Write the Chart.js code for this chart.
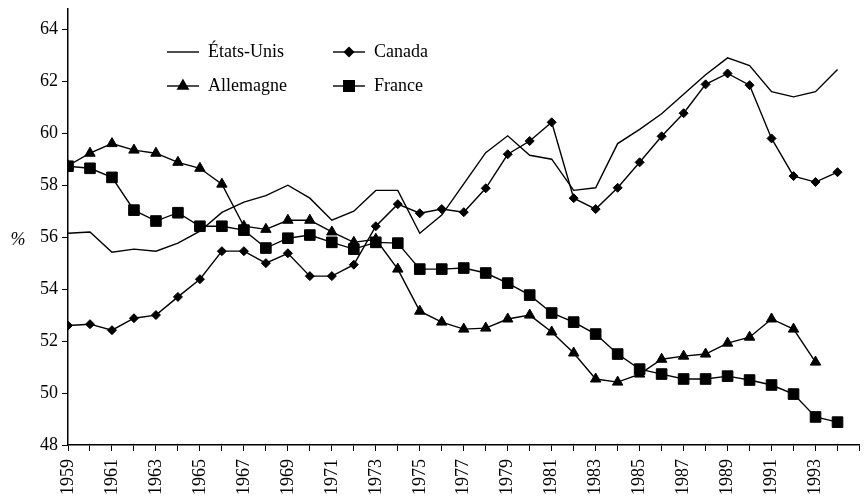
<!DOCTYPE html>
<html><head><meta charset="utf-8">
<script src="https://cdn.jsdelivr.net/npm/chart.js@4/dist/chart.umd.min.js"></script>
<style>html,body{margin:0;padding:0;background:#fff}#wrap{width:868px;height:499px}</style>
</head><body><div id="wrap"><canvas id="c" width="868" height="499"></canvas></div>
<script>
const years = [1959,1960,1961,1962,1963,1964,1965,1966,1967,1968,1969,1970,1971,1972,1973,1974,1975,1976,1977,1978,1979,1980,1981,1982,1983,1984,1985,1986,1987,1988,1989,1990,1991,1992,1993,1994];
const etatsUnis = [56.15,56.2,55.42,55.54,55.46,55.77,56.23,56.95,57.35,57.6,58.0,57.5,56.65,57.0,57.8,57.8,56.15,56.85,58.05,59.25,59.9,59.15,59.0,57.8,57.9,59.6,60.15,60.75,61.5,62.25,62.9,62.6,61.6,61.4,61.6,62.45];
const canada = [52.6,52.65,52.42,52.88,53.0,53.7,54.38,55.46,55.46,55.0,55.38,54.5,54.5,54.94,56.42,57.27,56.92,57.08,56.96,57.88,59.19,59.7,60.42,57.5,57.08,57.9,58.88,59.88,60.77,61.88,62.3,61.85,59.8,58.35,58.12,58.5];
const allemagne = [58.75,59.23,59.6,59.35,59.23,58.88,58.65,58.04,56.42,56.3,56.65,56.65,56.2,55.8,55.92,54.77,53.15,52.73,52.46,52.5,52.85,53.0,52.35,51.54,50.54,50.42,50.73,51.3,51.42,51.5,51.92,52.15,52.85,52.46,51.19];
const france = [58.73,58.65,58.3,57.04,56.62,56.94,56.42,56.42,56.27,55.58,55.96,56.08,55.8,55.54,55.8,55.77,54.77,54.77,54.81,54.62,54.23,53.77,53.08,52.73,52.27,51.5,50.92,50.73,50.54,50.54,50.65,50.5,50.31,49.96,49.08,48.88];
const yTicks = [48,50,52,54,56,58,60,62,64];
const xLabelYears = [1959,1961,1963,1965,1967,1969,1971,1973,1975,1977,1979,1981,1983,1985,1987,1989,1991,1993];
const seriesNames = ['États-Unis','Canada','Allemagne','France'];
const yUnit = '%';

const toXY = arr => arr.map((v,i)=>({x:years[i], y:v}));
const FONT = '"Liberation Serif", "DejaVu Serif", serif';

const legendPlugin = {
  id:'customLegend',
  afterDraw(chart){
    const ctx = chart.ctx;
    ctx.save();
    ctx.font = '18px ' + FONT;
    ctx.fillStyle = '#000';
    ctx.strokeStyle = '#000';
    ctx.textBaseline = 'middle';
    const items = [
      {name:seriesNames[0], x:167, y:52, style:null, r:0},
      {name:seriesNames[1], x:333, y:52, style:'rectRot', r:4.5},
      {name:seriesNames[2], x:167, y:86, style:'triangle', r:6},
      {name:seriesNames[3], x:333, y:86, style:'rect', r:7.5}
    ];
    items.forEach(it=>{
      ctx.lineWidth = 1.4;
      ctx.beginPath(); ctx.moveTo(it.x, it.y); ctx.lineTo(it.x+32, it.y); ctx.stroke();
      if (it.style) {
        Chart.helpers.drawPoint(ctx, {pointStyle:it.style, radius:it.r, rotation:0, borderWidth:1}, it.x+16, it.y);
        ctx.fillStyle = '#000';
      }
      ctx.fillText(it.name, it.x+41, it.y);
    });
    ctx.font = 'italic 18px ' + FONT;
    ctx.textAlign = 'center';
    ctx.fillText(yUnit, 18, 240);
    ctx.restore();
  }
};

const common = {borderColor:'#000', backgroundColor:'#000', borderWidth:1.4, tension:0, pointBorderColor:'#000', pointBackgroundColor:'#000', pointBorderWidth:1};

new Chart(document.getElementById('c'), {
  type:'line',
  data:{datasets:[
    Object.assign({label:seriesNames[0], data:toXY(etatsUnis), pointRadius:0}, common),
    Object.assign({label:seriesNames[1], data:toXY(canada), pointStyle:'rectRot', pointRadius:4.5}, common),
    Object.assign({label:seriesNames[2], data:toXY(allemagne), pointStyle:'triangle', pointRadius:6}, common),
    Object.assign({label:seriesNames[3], data:toXY(france), pointStyle:'rect', pointRadius:7.5}, common)
  ]},
  options:{
    responsive:false, animation:false,
    layout:{padding:{left:0,right:6,top:8,bottom:0}},
    plugins:{legend:{display:false}, tooltip:{enabled:false}},
    scales:{
      x:{type:'linear', min:1959, max:1995,
        afterFit(s){ s.height = 54; s.paddingLeft = 0; s.paddingRight = 0; },
        border:{display:true,color:'#000',width:1.5},
        grid:{display:true, drawOnChartArea:false, drawTicks:true, tickLength:6, color:'#000', lineWidth:1},
        ticks:{stepSize:1, autoSkip:false, minRotation:90, maxRotation:90, padding:8, color:'#000',
          font:{family:FONT, size:18},
          callback:v=> xLabelYears.includes(v) ? String(v) : ''}
      },
      y:{min:48, max:64.8,
        afterFit(s){ s.width = 68; s.paddingTop = 0; s.paddingBottom = 0; },
        afterBuildTicks(s){ s.ticks = yTicks.map(v=>({value:v})); },
        border:{display:true,color:'#000',width:1.5},
        grid:{display:true, drawOnChartArea:false, drawTicks:true, tickLength:6, color:'#000', lineWidth:1},
        ticks:{padding:4, color:'#000', font:{family:FONT, size:18}}
      }
    }
  },
  plugins:[legendPlugin]
});
</script></body></html>
